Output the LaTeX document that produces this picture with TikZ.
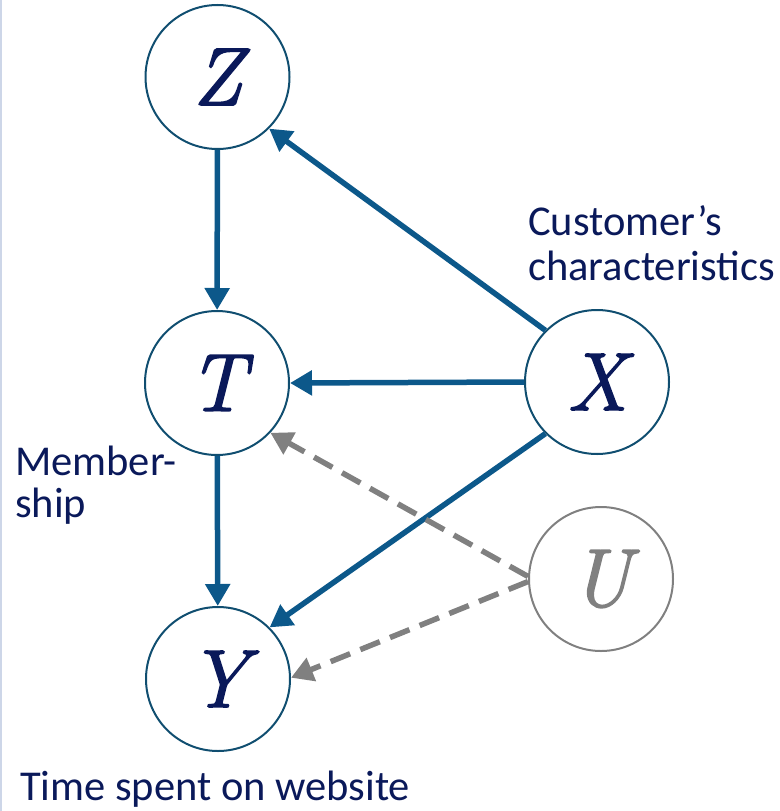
\documentclass[tikz,border=0pt]{standalone}
\usepackage{fontspec}
\newfontfamily\labelfont{Carlito}
\usetikzlibrary{arrows.meta}
\definecolor{ringblue}{RGB}{16,78,112}
\definecolor{edgeblue}{RGB}{12,88,138}
\definecolor{inkblue}{RGB}{10,25,90}
\definecolor{latentgray}{RGB}{128,128,128}
\definecolor{edgeline}{RGB}{205,214,232}
% heavier variable letters: fill and stroke the glyph outlines
\newcommand{\heavyletter}[1]{\special{pdf:literal direct 2 Tr 1.6 w}#1\special{pdf:literal direct 0 Tr}}
\tikzset{
  var/.style={circle, draw=ringblue, line width=2pt, minimum size=144pt,
    inner sep=0pt, text=inkblue, font=\fontsize{82}{82}\selectfont\itshape},
  latent/.style={var, draw=latentgray, text=latentgray},
  causal/.style={draw=edgeblue, line width=5.5pt,
    -{Triangle[length=22pt,width=24pt]}},
  hidden/.style={draw=latentgray, line width=5.5pt, dash pattern=on 21pt off 11pt,
    -{Triangle[length=22pt,width=24pt]}},
  caption/.style={inner sep=0pt, anchor=base west, text=inkblue,
    font=\labelfont\fontsize{42.5}{45}\selectfont}
}
\begin{document}
\begin{tikzpicture}[x=1pt, y=-1pt]
  \useasboundingbox (0,0) rectangle (779,811);
  \draw[edgeline, line width=2pt] (1,0) -- (1,811);

  \node[var] (Z) at (217.5,77) {\heavyletter{Z}};
  \node[var] (T) at (217,383) {\heavyletter{T}};
  \node[var] (Y) at (218,679) {\heavyletter{Y}};
  \node[var] (X) at (597,382) {\heavyletter{X}};
  \node[latent] (U) at (601,579) {\heavyletter{U}};

  \draw[causal] (Z) -- (T);
  \draw[causal] (T) -- (Y);
  \draw[causal] (X.180) -- (T.0);
  \draw[causal] (X.135) -- (Z.-45);
  \draw[causal] (X.225) -- (Y.45);
  \draw[hidden] (U.178) -- (T.-43);
  \draw[hidden] (U.182) -- (Y.1);

  \node[caption] (cust) at (528,235) {Customer’s};
  \node[caption] (char) at (528,280) {characteristics};
  \node[caption] (mem) at (15,475) {Member-};
  \node[caption] (ship) at (15,517) {ship};
  \node[caption] (time) at (20,800) {Time spent on website};
\end{tikzpicture}
\end{document}
